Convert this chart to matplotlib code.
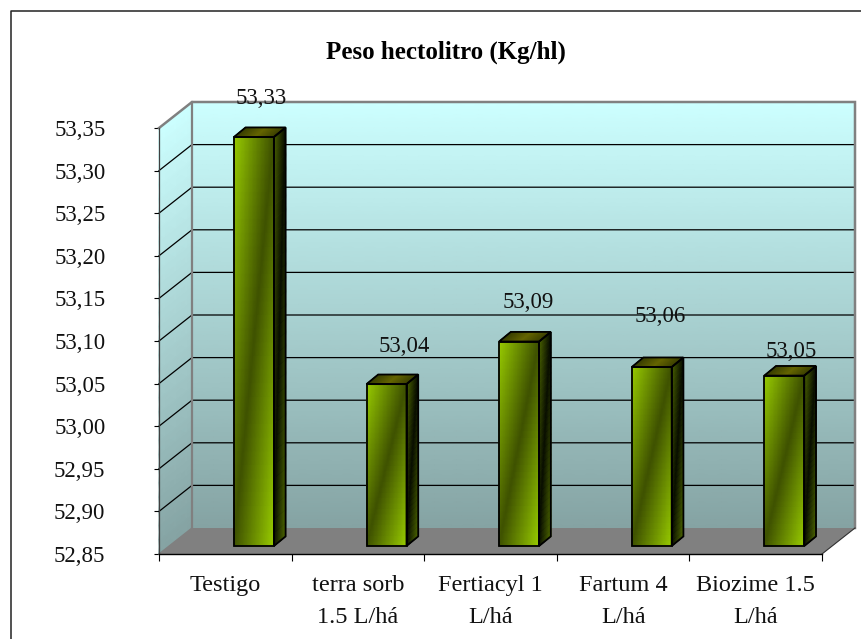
import numpy as np
import matplotlib
matplotlib.use("Agg")
import matplotlib.pyplot as plt
from matplotlib.colors import LinearSegmentedColormap
from matplotlib.lines import Line2D
from matplotlib.patches import Polygon

plt.rcParams['font.family'] = ['Liberation Serif', 'DejaVu Serif']

# data
title = "Peso hectolitro (Kg/hl)"
categories = ["Testigo", "terra sorb\n1.5 L/há", "Fertiacyl 1\nL/há", "Fartum 4\nL/há", "Biozime 1.5\nL/há"]
values = [53.33, 53.04, 53.09, 53.06, 53.05]
y_ticks = [52.85, 52.90, 52.95, 53.00, 53.05, 53.10, 53.15, 53.20, 53.25, 53.30, 53.35]

# hand placed label shifts in pixels, relative to the back top corner of each bar
label_dx = [7, 18, 9, 8, 6.5]
label_dy = [29, 28, 29, 41, 15]

# layout in pixels
W, H = 862, 639
LEFT, RIGHT, TOP, BOTTOM = 159, 822, 128, 554
DEPTH_X, DEPTH_Y = 33, 26
BAR_W = 40
BAR_SHIFT_X, BAR_SHIFT_Y = 28.6, 8
BAR_DEPTH_X, BAR_DEPTH_Y = 11.7, 9.6

wall_cmap = LinearSegmentedColormap.from_list("wall", ["#85a3a3", "#ccffff"])
face_cmap = LinearSegmentedColormap.from_list("face", ["#3f5200", "#99cc00"])
side_cmap = LinearSegmentedColormap.from_list("side", ["#0a0f00", "#4d6600"])
top_cmap = LinearSegmentedColormap.from_list("top", ["#2f3600", "#666600"])

fig = plt.figure(figsize=(W / 100, H / 100), dpi=100)
ax = fig.add_axes([LEFT / W, 1 - BOTTOM / H, (RIGHT - LEFT) / W, (BOTTOM - TOP) / H])
y0, y1 = y_ticks[0], y_ticks[-1]
px_x = len(categories) / (RIGHT - LEFT)
px_y = (y1 - y0) / (BOTTOM - TOP)
dep_x, dep_y = DEPTH_X * px_x, DEPTH_Y * px_y


def shade(corners, cmap, t_func, z):
    # corners: bottom left, bottom right, top right, top left
    (blx, bly), (brx, bry), (trx, try_), (tlx, tly) = corners
    u, v = np.meshgrid(np.linspace(0, 1, 31), np.linspace(0, 1, 31))
    xs = (1 - v) * ((1 - u) * blx + u * brx) + v * ((1 - u) * tlx + u * trx)
    ys = (1 - v) * ((1 - u) * bly + u * bry) + v * ((1 - u) * tly + u * try_)
    ax.pcolormesh(xs, ys, t_func(u, v), cmap=cmap, vmin=0, vmax=1,
                  shading='gouraud', zorder=z, clip_on=False)


def vertical(u, v):
    return v


def diagonal(u, v):
    return np.abs(u - v)


n = len(categories)
# back wall, left wall, floor
shade([(dep_x, y0 + dep_y), (n + dep_x, y0 + dep_y), (n + dep_x, y1 + dep_y), (dep_x, y1 + dep_y)],
      wall_cmap, vertical, 1)
shade([(0, y0), (dep_x, y0 + dep_y), (dep_x, y1 + dep_y), (0, y1)], wall_cmap, vertical, 1)
ax.add_patch(Polygon([(0, y0), (n, y0), (n + dep_x, y0 + dep_y), (dep_x, y0 + dep_y)],
                     facecolor="#808080", edgecolor="none", zorder=2, clip_on=False))

# grid lines on both walls
for tick in y_ticks[1:-1]:
    ax.plot([0, dep_x, n + dep_x], [tick, tick + dep_y, tick + dep_y],
            color="black", lw=0.9, zorder=3, clip_on=False)

# wall edges
ax.plot([0, dep_x, n + dep_x, n + dep_x], [y1, y1 + dep_y, y1 + dep_y, y0 + dep_y],
        color="#808080", lw=1.8, zorder=3, clip_on=False, solid_joinstyle='miter')
ax.plot([dep_x, dep_x], [y0 + dep_y, y1 + dep_y], color="#808080", lw=1.6, zorder=3, clip_on=False)
ax.plot([0, dep_x], [y0, y0 + dep_y], color="#808080", lw=1, zorder=3, clip_on=False)
ax.plot([n, n + dep_x], [y0, y0 + dep_y], color="#303030", lw=0.8, zorder=3, clip_on=False)

# bars
bar_w = BAR_W * px_x
bd_x, bd_y = BAR_DEPTH_X * px_x, BAR_DEPTH_Y * px_y
for i, val in enumerate(values):
    xl = i + 0.5 + BAR_SHIFT_X * px_x - bar_w / 2
    xr = xl + bar_w
    yb = y0 + BAR_SHIFT_Y * px_y
    yt = val + BAR_SHIFT_Y * px_y
    front = [(xl, yb), (xr, yb), (xr, yt), (xl, yt)]
    side = [(xr, yb), (xr + bd_x, yb + bd_y), (xr + bd_x, yt + bd_y), (xr, yt)]
    top = [(xl, yt), (xr, yt), (xr + bd_x, yt + bd_y), (xl + bd_x, yt + bd_y)]
    shade(front, face_cmap, diagonal, 4)
    shade(side, side_cmap, diagonal, 4)
    shade(top, top_cmap, lambda u, v: 1 - np.abs(2 * u - 1) * 0.8, 4)
    for poly in (front, side, top):
        ax.add_patch(Polygon(poly, closed=True, fill=False, edgecolor="black", lw=1.3,
                             zorder=5, clip_on=False, joinstyle='miter'))
    ax.text(xl + bar_w / 2 + label_dx[i] * px_x, yt + bd_y + label_dy[i] * px_y,
            f"{val:.2f}".replace(".", ","), ha='center', va='center',
            fontsize=16.5, color="#111111", zorder=6, clip_on=False)

# axes and ticks
ax.set_xlim(0, n)
ax.set_ylim(y0, y1)
ax.patch.set_visible(False)
for side_name in ("top", "right"):
    ax.spines[side_name].set_visible(False)
ax.spines['left'].set_color("#404040")
ax.spines['left'].set_linewidth(0.9)
ax.spines['bottom'].set_color("black")
ax.spines['bottom'].set_linewidth(1)
for sp in ax.spines.values():
    sp.set_zorder(7)
ax.set_yticks(y_ticks)
ax.set_yticklabels([f"{t:.2f}".replace(".", ",") for t in y_ticks], fontsize=16.5, color="#111111")
ax.tick_params(axis='y', length=3.6, width=0.8, pad=35)
ax.set_xticks(np.arange(n + 1))
ax.set_xticklabels([])
ax.tick_params(axis='x', which='major', length=5, width=0.8)
ax.set_xticks(np.arange(n) + 0.5, minor=True)
ax.set_xticklabels(categories, minor=True, fontsize=17.5, color="#111111", linespacing=1.68)
ax.tick_params(axis='x', which='minor', length=0, pad=15)

fig.text(446 / W, 1 - 52 / H, title, ha='center', va='center', fontsize=18, fontweight='bold')

# outer chart frame, only left and top fall inside the picture
fig.add_artist(Line2D([11 / W, 11 / W, 1], [0, 1 - 11 / H, 1 - 11 / H],
                      transform=fig.transFigure, color="#222222", lw=1.1))

fig.savefig("out.png", dpi=100)
